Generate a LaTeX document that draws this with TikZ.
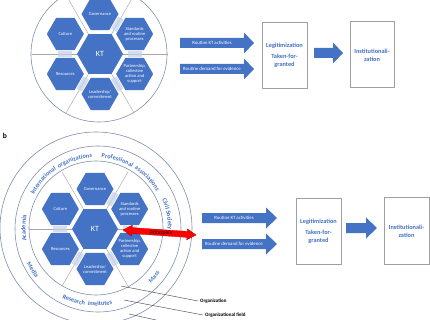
\documentclass[tikz,border=0pt]{standalone}
\usepackage{fontspec}
\setmainfont{Carlito}
\usetikzlibrary{decorations.text,shapes.geometric}
\definecolor{hexblue}{HTML}{4472C4}
\definecolor{txtblue}{HTML}{4472C4}
\definecolor{ringline}{HTML}{7F8FAE}
\definecolor{divline}{HTML}{A8A8A8}
\definecolor{patchc}{HTML}{C5D2EA}
\definecolor{boxline}{HTML}{A0A0A0}
\newcommand\ringfont{\fontsize{6.3}{7}\selectfont\bfseries\color{txtblue}}
\tikzset{
  hexa/.style={regular polygon, regular polygon sides=6, fill=hexblue, draw=none, inner sep=0pt, minimum size=#1},
  hexlabel/.style={text=white, font=\fontsize{4.5}{5}\selectfont, align=center, inner sep=0pt},
  ktlabel/.style={text=white, font=\fontsize{8}{9}\selectfont, inner sep=0pt},
  patchsty/.style={fill=patchc, fill opacity=0.75, draw=none, minimum width=14, minimum height=6, inner sep=0pt},
  divsty/.style={draw=divline, line width=0.45pt},
  ringsty/.style={draw=ringline, line width=0.6pt},
  boxsty/.style={draw=boxline, line width=0.8pt, fill=white, inner sep=0pt},
  boxtext/.style={text=txtblue, font=\fontsize{6.3}{8}\selectfont\bfseries, align=center, inner sep=0pt},
  arrowlabel/.style={text=white, font=\fontsize{4.8}{5.5}\selectfont, inner sep=0pt},
  arrowfill/.style={fill=hexblue},
  smalllabel/.style={font=\fontsize{5}{6}\selectfont\bfseries, inner sep=0pt, anchor=west},
  leader/.style={draw=black!70, line width=0.45pt},
}
% block arrow: x0, xtip, xheadstart, ycenter
\newcommand\barrow[4]{\fill[arrowfill] (#1,#4+5) -- (#3,#4+5) -- (#3,#4+10.5) -- (#2,#4) -- (#3,#4-10.5) -- (#3,#4-5) -- (#1,#4-5) -- cycle;}
% ring word: text, start angle, end angle, radius
\newcommand\ringword[4]{\path[decorate, decoration={text along path, text align=center, text={|\ringfont|#1}}]
    (#2:#4) arc[start angle=#2, end angle=#3, radius=#4];}
% hexagon cluster: prefix, center, divider radius
\newcommand\kthex[3]{%
\begin{scope}[shift={#2}]
  \foreach \a in {0,60,...,300} \draw[divsty] (\a:22) -- (\a:#3);
  \node[hexa=46] (#1kt) at (0,0) {};
  \node[hexa=37] (#1gov) at (90:40) {};
  \node[hexa=37] (#1std) at (30:40) {};
  \node[hexa=37] (#1par) at (-30:40) {};
  \node[hexa=37] (#1lea) at (-90:40) {};
  \node[hexa=37] (#1res) at (210:40) {};
  \node[hexa=37] (#1cul) at (150:40) {};
  \foreach \a in {0,60,180,240,300} \node[patchsty, rotate=\a] (#1p\a) at (\a:34.6) {};
  \node[ktlabel] (#1ktt) at (#1kt) {KT};
  \node[hexlabel] (#1govt) at (#1gov) {Governance};
  \node[hexlabel] (#1stdt) at (#1std) {Standards\\and routine\\processes};
  \node[hexlabel] (#1part) at (#1par) {Partnership,\\collective\\action and\\support};
  \node[hexlabel] (#1leat) at (#1lea) {Leadership/\\commitment};
  \node[hexlabel] (#1rest) at (#1res) {Resources};
  \node[hexlabel] (#1cult) at (#1cul) {Culture};
\end{scope}}
\begin{document}
\begin{tikzpicture}[x=1pt,y=1pt]
\useasboundingbox (0,0) rectangle (430,-320);
\clip (0,0) rectangle (430,-320);

% ---------------- panel a ----------------
\draw[ringsty] (99,-54) circle (68);
\kthex{a}{(100,-54)}{68}

\barrow{180}{254}{244}{-43}
\node[arrowlabel] (ra1) at (212,-43) {Routine KT activities};
\barrow{180}{254}{244}{-69}
\node[arrowlabel] (ra2) at (212,-69) {Routine demand for evidence};

\node[boxsty, minimum width=45, minimum height=66] (legA) at (284.5,-55) {};
\node[boxtext] (legAt) at (legA) {Legitimization\\[3pt]Taken-for-\\granted};
\barrow{314}{343}{333}{-53}
\node[boxsty, minimum width=44, minimum height=66] (insA) at (372,-54) {};
\node[boxtext] (insAt) at (372,-55) {Institutionali-\\zation};

% ---------------- panel b ----------------
\node[font=\fontsize{7.5}{8}\selectfont\bfseries, inner sep=0pt] (blabel) at (5,-136) {b};

\draw[ringsty] (96,-228) circle (96);
\draw[ringsty] (98,-229) circle (83);
\draw[ringsty] (96,-228) circle (67);

% leader lines
\coordinate (l1s) at (121,-286);
\coordinate (l2s) at (124,-300);
\coordinate (l3s) at (129,-314);
\coordinate (l3e) at (165,-322);
\node[smalllabel] (orgl) at (200,-301) {Organization};
\node[smalllabel] (fieldl) at (205,-315) {Organizational field};
\draw[leader] (l1s) -- ([xshift=-2pt]orgl.west);
\draw[leader] (l2s) -- ([xshift=-2pt]fieldl.west);
\draw[leader] (l3s) -- (l3e);

\kthex{b}{(95,-229)}{66}

% ring texts
\begin{scope}[shift={(96,-228)}]
  \ringword{International}{158}{118}{70.5}
  \ringword{organizations}{124}{91}{70.5}
  \ringword{Professional}{90}{55}{70.5}
  \ringword{associations}{60}{28}{70.5}
  \ringword{Civil Society}{24}{-2}{72}
  \ringword{Academia}{192}{168}{70.5}
  \ringword{Media}{203}{224}{78}
  \ringword{Research}{243}{263}{78}
  \ringword{institutes}{263}{283}{78}
  \ringword{Mass}{310}{330}{78}
\end{scope}

% Principles double arrow
\begin{scope}[shift={(123,-230)}, rotate=-3.9]
  \fill[red, draw=red!70!black, line width=0.3pt] (0,0) -- (9,5.5) -- (9,3) -- (64.2,3) -- (64.2,5.5) -- (73.2,0) -- (64.2,-5.5) -- (64.2,-3) -- (9,-3) -- (9,-5.5) -- cycle;
  \node[font=\fontsize{5.5}{6}\selectfont, text=black, inner sep=0pt] (princ) at (38,0) {Principles};
\end{scope}

\barrow{202}{277}{266}{-218}
\node[arrowlabel] (rb1) at (234,-218) {Routine KT activities};
\barrow{202}{277}{266}{-244}
\node[arrowlabel] (rb2) at (234,-244) {Routine demand for evidence};

\node[boxsty, minimum width=45, minimum height=66] (legB) at (318.5,-231) {};
\node[boxtext] (legBt) at (318.5,-231.5) {Legitimization\\[3pt]Taken-for-\\granted};
\barrow{346}{377}{366}{-228}
\node[boxsty, minimum width=45, minimum height=67] (insB) at (406.5,-230.5) {};
\node[boxtext] (insBt) at (406.5,-231.5) {Institutionali-\\zation};
\end{tikzpicture}
\end{document}
